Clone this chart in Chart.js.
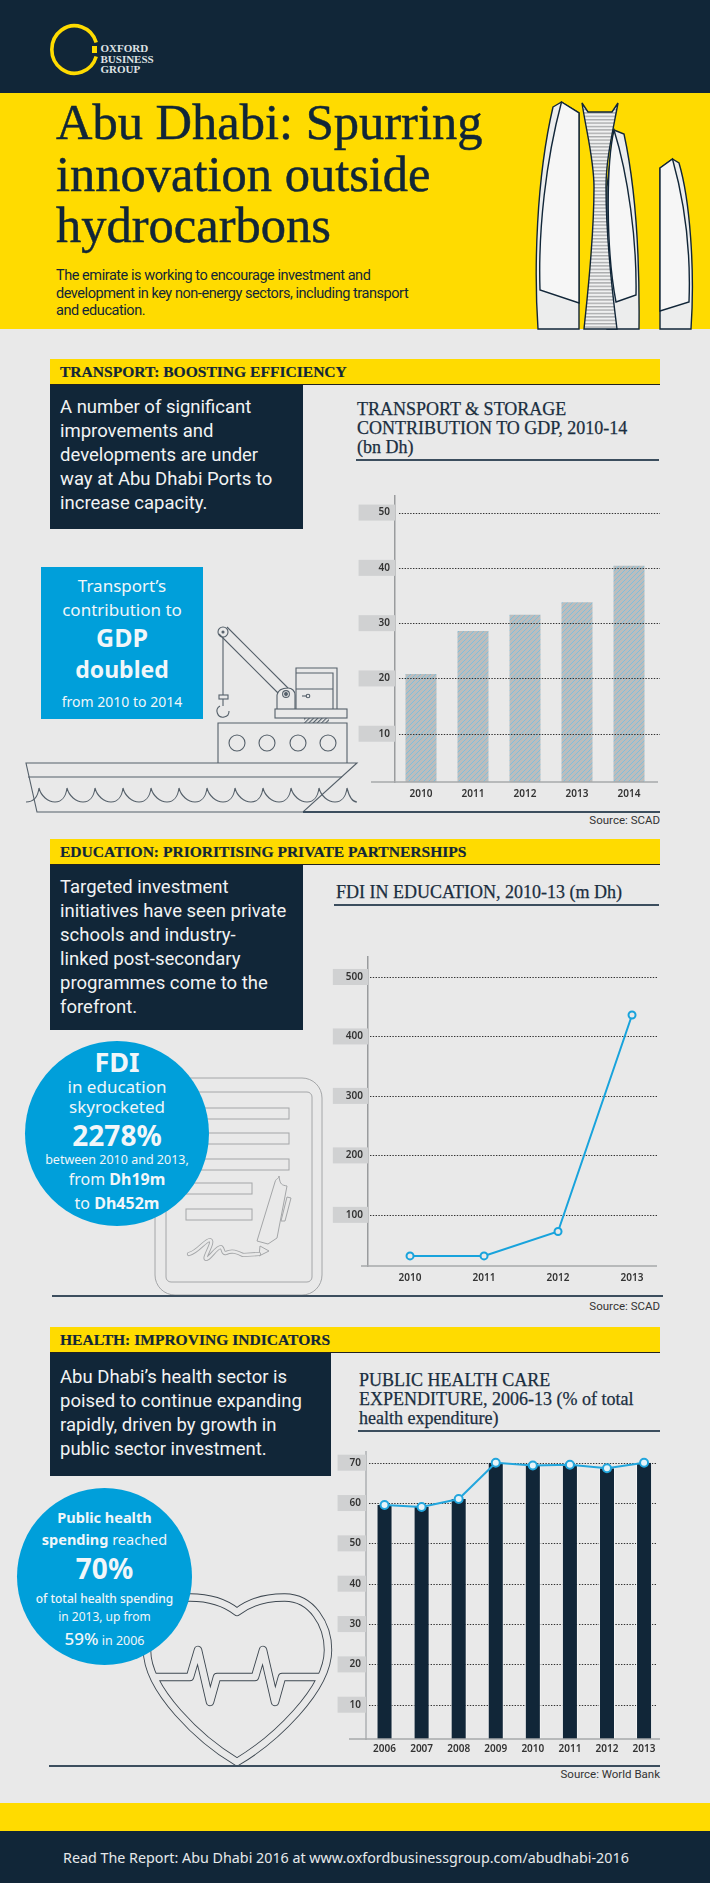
<!DOCTYPE html>
<html>
<head>
<meta charset="utf-8">
<script src="https://cdn.jsdelivr.net/npm/chart.js@4"></script>
<style>
html, body { margin: 0; padding: 0; }
body { position: relative; width: 710px; height: 1883px; overflow: hidden; background: #e9e9e9; font-family: "Noto Sans", sans-serif; }
.box { position: absolute; }
.t { position: absolute; white-space: nowrap; }
.c { text-align: center; }
.navy { background: #112638; }
.yellow { background: #ffdb00; }
.blue { background: #009fda; }
.head { font: bold 15.55px "Liberation Serif", serif; color: #112638; line-height: 20px; left: 60px; -webkit-text-stroke: 0.2px #112638; }
.body { font-family: Roboto, sans-serif; color: #f1f3f4; font-size: 18.5px; line-height: 24px; left: 60px; }
.ctitle { font: 18px "Liberation Serif", serif; color: #1a2e40; line-height: 20px; -webkit-text-stroke: 0.25px #1a2e40; }
.src { font-family: Roboto, sans-serif; right: 50px; font-size: 11.5px; color: #333; line-height: 16px; }
.w { color: #f1f6f9; }
canvas { position: absolute; }
svg { position: absolute; left: 0; top: 0; }
</style>
</head>
<body>

<div class="box navy" style="left:0;top:0;width:710px;height:93px"></div>
<div class="box yellow" style="left:0;top:93px;width:710px;height:236px"></div>
<div class="box yellow" style="left:0;top:1803px;width:710px;height:28px"></div>
<div class="box navy" style="left:0;top:1831px;width:710px;height:52px"></div>

<div class="box yellow" style="left:50px;top:359px;width:610px;height:26px;border-bottom:1px solid #222;box-sizing:border-box"></div>
<div class="box yellow" style="left:50px;top:839px;width:610px;height:26px;border-bottom:1px solid #222;box-sizing:border-box"></div>
<div class="box yellow" style="left:50px;top:1327px;width:610px;height:26px;border-bottom:1px solid #222;box-sizing:border-box"></div>

<svg width="710" height="1883" viewBox="0 0 710 1883" fill="none">
  <defs>
    <pattern id="rungs" width="4" height="3.4" patternUnits="userSpaceOnUse">
      <rect width="4" height="3.4" fill="#f0f1f1"/>
      <rect width="4" height="1.4" fill="#a9abac"/>
    </pattern>
    <pattern id="smallHatch" width="3" height="3" patternUnits="userSpaceOnUse" patternTransform="rotate(45)">
      <rect width="1.2" height="3" fill="#55606a"/>
    </pattern>
  </defs>

  <!-- logo -->
  <path d="M96.2 42.5 A22.7 23.7 0 1 0 96.2 56.5" stroke="#ffdb00" stroke-width="3.6"/>
  <rect x="92" y="46" width="5" height="7" fill="#ffdb00"/>

  <!-- towers -->
  <g stroke="#112638" stroke-width="1.4">
    <path d="M553 107 L561.5 102 L579 113 L579 329 L538 329 C534 270 536 180 553 107 Z" fill="#eceded"/>
    <path d="M561.5 102 L579 113 L579 303 L540 290 C538 230 546 160 561.5 102 Z" fill="#f6f6f6"/>
    <path d="M614 130 L624 134 C634 180 640 240 639 329 L607 329 L607 187 Z" fill="#eceded"/>
    <path d="M614 130 C606 165 606 250 616 302 L636 295 C637 240 628 175 614 130 Z" fill="#f6f6f6"/>
    <path d="M582 103 C587 135 594 160 594 187 C594 240 588 290 584 329 L617 329 C612 290 606 240 606 187 C606 160 612 135 618 103 L612 112 L588 112 Z" fill="url(#rungs)"/>
    <path d="M660 168 L672.5 159 L679 163 C690 200 695 270 691 329 L660 329 Z" fill="#eceded"/>
    <path d="M660 168 L672.5 159 C684 200 691 250 689 302 L660 311 Z" fill="#f6f6f6"/>
  </g>

  <!-- ship -->
  <g stroke="#55606a" stroke-width="1.1">
    <path d="M26 763 L357 763 L303 812 L37 812 Z"/>
    <path d="M28 777 L342 777"/>
    <path d="M26 802 C34 802 38 796 39 788 C41 796 48 802 55 802 C62 802 66 796 67 788 C69 796 76 802 83 802 C90 802 94 796 95 788 C97 796 104 802 111 802 C118 802 122 796 123 788 C125 796 132 802 139 802 C146 802 150 796 151 788 C153 796 160 802 167 802 C174 802 178 796 179 788 C181 796 188 802 195 802 C202 802 206 796 207 788 C209 796 216 802 223 802 C230 802 234 796 235 788 C237 796 244 802 251 802 C258 802 262 796 263 788 C265 796 272 802 279 802 C286 802 290 796 291 788 C293 796 300 802 307 802 C314 802 318 796 319 788 C321 796 328 802 335 802 C342 802 346 796 347 788 C349 796 352 802 357 802"/>
    <path d="M218 763 L218 723 L347 723 L347 763"/>
    <circle cx="237" cy="743" r="8"/><circle cx="267" cy="743" r="8"/><circle cx="298" cy="743" r="8"/><circle cx="328" cy="743" r="8"/>
    <rect x="304" y="718" width="25" height="5" fill="url(#smallHatch)" stroke="none"/>
    <rect x="275" y="709" width="72" height="9"/>
    <path d="M296 709 L296 668 L337 668 L337 709 M296 673 L333 673 L333 709 M296 689 L333 689"/>
    <path d="M302 696 L307 696"/><circle cx="308" cy="696" r="1.8"/>
    <path d="M227 627 L288 688 M219 634 L278 693"/>
    <circle cx="223" cy="632" r="5"/><circle cx="223" cy="632" r="1" fill="#55606a"/>
    <path d="M277 709 L277 695 C278 690 283 688 288 688 C292 688 295 691 295 695 L295 709"/>
    <circle cx="286" cy="694" r="3.4"/><circle cx="286" cy="694" r="1.4" fill="#55606a"/>
    <path d="M223 637 L223 695"/>
    <rect x="219" y="695" width="9" height="4"/>
    <path d="M223 699 L223 706 M229 711 A6 6 0 1 1 220 706"/>
  </g>

  <!-- document -->
  <g stroke="#a4a6a8" stroke-width="1">
    <rect x="155" y="1078" width="167" height="217" rx="20"/>
    <rect x="166" y="1092" width="146" height="190" rx="5"/>
    <rect x="186" y="1108" width="103" height="11"/>
    <rect x="186" y="1133" width="103" height="11"/>
    <rect x="186" y="1159" width="103" height="11"/>
    <rect x="186" y="1183" width="66" height="11"/>
    <rect x="186" y="1209" width="66" height="11"/>
    <path d="M277 1238 L268 1244 L257 1241 L275 1182 C276 1178 279 1179 279 1176 C280 1185 282 1185 287 1186 Z" />
    <path d="M281 1221 L287 1197 L291 1198 L285 1221 Z"/>
    <path d="M260 1246 L269 1251 L259 1256 Z"/>
  </g>
  <path d="M189 1254 C198 1252 205 1240 210 1240 C215 1241 203 1258 206 1259 C210 1259 216 1247 221 1247 C224 1249 222 1254 226 1253 C232 1250 237 1252 243 1255 L259 1254" stroke="#a4a6a8" stroke-width="4.2" stroke-linejoin="round" stroke-linecap="round"/>
  <path d="M189 1254 C198 1252 205 1240 210 1240 C215 1241 203 1258 206 1259 C210 1259 216 1247 221 1247 C224 1249 222 1254 226 1253 C232 1250 237 1252 243 1255 L259 1254" stroke="#e9e9e9" stroke-width="2.4" stroke-linejoin="round" stroke-linecap="round"/>

  <!-- heart -->
  <path d="M237 1612 C222 1600 205 1597.5 190 1597.5 C162 1597 147 1625 147 1650 C147 1690 200 1740 237 1762 C274 1740 328 1690 328 1650 C328 1625 312 1597 284 1597.5 C269 1597.5 252 1600 237 1612 Z M152 1677 L190 1677 L198 1650 L210 1702 L217 1677 L255 1677 L263 1650 L275 1702 L282 1677 L322 1677" stroke="#3d4750" stroke-width="8.4" stroke-linejoin="round"/>
  <path d="M237 1612 C222 1600 205 1597.5 190 1597.5 C162 1597 147 1625 147 1650 C147 1690 200 1740 237 1762 C274 1740 328 1690 328 1650 C328 1625 312 1597 284 1597.5 C269 1597.5 252 1600 237 1612 Z M152 1677 L190 1677 L198 1650 L210 1702 L217 1677 L255 1677 L263 1650 L275 1702 L282 1677 L322 1677" stroke="#e9e9e9" stroke-width="6.6" stroke-linejoin="round"/>

  <!-- section rules -->
  <g stroke="#3c4e5e" stroke-width="2">
    <path d="M303 812 L660 812"/>
    <path d="M52 1296 L663 1296"/>
    <path d="M49 1766 L660 1766"/>
    <path d="M356 460 L659 460"/>
    <path d="M334 905 L659 905"/>
    <path d="M358 1431 L660 1431"/>
  </g>
</svg>

<div class="t" style="left:100.5px;top:43px;font:bold 11px/10.5px 'Liberation Serif',serif;color:#dfe2e4">OXFORD<br>BUSINESS<br>GROUP</div>

<div class="t" style="left:56px;top:97px;font:50.5px/51.5px 'Liberation Serif',serif;color:#112638;-webkit-text-stroke:0.5px #112638">Abu Dhabi: Spurring<br>innovation outside<br>hydrocarbons</div>
<div class="t" style="left:56px;top:267px;font-family:Roboto,sans-serif;font-size:14.5px;line-height:17.6px;color:#112638;letter-spacing:-0.45px">The emirate is working to encourage investment and<br>development in key non-energy sectors, including transport<br>and education.</div>

<!-- transport -->
<div class="t head" style="top:362px">TRANSPORT: BOOSTING EFFICIENCY</div>
<div class="box navy" style="left:50px;top:385px;width:253px;height:144px"></div>
<div class="t body" style="top:395px">A number of significant<br>improvements and<br>developments are under<br>way at Abu Dhabi Ports to<br>increase capacity.</div>
<div class="box blue" style="left:41px;top:567px;width:162px;height:152px"></div>
<div class="t c w" style="left:41px;width:162px;top:574px;font-size:17px;line-height:24px">Transport’s<br>contribution to</div>
<div class="t c w" style="left:41px;width:162px;top:621px;font-size:25px;line-height:32px;font-weight:700">GDP</div>
<div class="t c w" style="left:41px;width:162px;top:653px;font-size:23px;line-height:32px;font-weight:700">doubled</div>
<div class="t c w" style="left:41px;width:162px;top:692px;font-size:14px;line-height:20px">from 2010 to 2014</div>
<div class="t ctitle" style="left:357px;top:400px;line-height:19px">TRANSPORT &amp; STORAGE<br>CONTRIBUTION TO GDP, 2010-14<br>(bn Dh)</div>
<div class="t src" style="top:812px">Source: SCAD</div>
<canvas id="transportChart" width="330" height="320" style="left:340px;top:490px"></canvas>

<!-- education -->
<div class="t head" style="top:842px">EDUCATION: PRIORITISING PRIVATE PARTNERSHIPS</div>
<div class="box navy" style="left:50px;top:865px;width:253px;height:165px"></div>
<div class="t body" style="top:875px">Targeted investment<br>initiatives have seen private<br>schools and industry-<br>linked post-secondary<br>programmes come to the<br>forefront.</div>
<div class="t ctitle" style="left:336px;top:882px">FDI IN EDUCATION, 2010-13 (m Dh)</div>
<div class="t src" style="top:1298px">Source: SCAD</div>
<canvas id="fdiChart" width="350" height="345" style="left:320px;top:950px"></canvas>

<div class="box blue" style="left:25px;top:1041px;width:184px;height:185px;border-radius:50%"></div>
<div class="t c w" style="left:25px;width:184px;top:1044px;font-size:27px;line-height:36px;font-weight:700">FDI</div>
<div class="t c w" style="left:25px;width:184px;top:1077px;font-size:17px;line-height:20px">in education<br>skyrocketed</div>
<div class="t c w" style="left:25px;width:184px;top:1115px;font-size:28px;line-height:40px;font-weight:700">2278%</div>
<div class="t c w" style="left:25px;width:184px;top:1151px;font-size:12.5px;line-height:18px">between 2010 and 2013,</div>
<div class="t c w" style="left:25px;width:184px;top:1167px;font-size:16px;line-height:24px">from <b>Dh19m</b><br>to <b>Dh452m</b></div>

<!-- health -->
<div class="t head" style="top:1330px">HEALTH: IMPROVING INDICATORS</div>
<div class="box navy" style="left:50px;top:1353px;width:281px;height:123px"></div>
<div class="t body" style="top:1365px">Abu Dhabi’s health sector is<br>poised to continue expanding<br>rapidly, driven by growth in<br>public sector investment.</div>
<div class="t ctitle" style="left:359px;top:1371px;line-height:19px">PUBLIC HEALTH CARE<br>EXPENDITURE, 2006-13 (% of total<br>health expenditure)</div>
<div class="t src" style="top:1766px">Source: World Bank</div>
<canvas id="healthChart" width="350" height="310" style="left:320px;top:1445px"></canvas>

<div class="box blue" style="left:17px;top:1488px;width:175px;height:177px;border-radius:50%"></div>
<div class="t c w" style="left:17px;width:175px;top:1506px;font-size:14.5px;line-height:22px"><b>Public health<br>spending</b> reached</div>
<div class="t c w" style="left:17px;width:175px;top:1550px;font-size:28px;line-height:36px;font-weight:700">70%</div>
<div class="t c w" style="left:17px;width:175px;top:1590px;font-size:12px;line-height:18px"><span style="font-weight:500">of total health spending</span><br>in 2013, up from</div>
<div class="t c w" style="left:17px;width:175px;top:1627px;font-size:12.5px;line-height:24px"><span style="font-size:17px;font-weight:500">59%</span> in 2006</div>

<div class="t" style="left:63px;top:1848px;font-size:14.3px;line-height:20px;color:#e6e9eb">Read The Report: Abu Dhabi 2016 at www.oxfordbusinessgroup.com/abudhabi-2016</div>

<script>
// transport & storage, bn Dh
const transportYears = ['2010', '2011', '2012', '2013', '2014'];
const transportValues = [20.8, 28.6, 31.5, 33.8, 40.4];
const transportTicks = [10, 20, 30, 40, 50];

// fdi in education, m Dh
const fdiYears = [2010, 2011, 2012, 2013];
const fdiValues = [31, 31, 72, 436];
const fdiTicks = [100, 200, 300, 400, 500];

// public health care, % of total
const healthYears = ['2006', '2007', '2008', '2009', '2010', '2011', '2012', '2013'];
const healthValues = [59.5, 59, 61, 70, 69.3, 69.5, 68.6, 70];
const healthTicks = [10, 20, 30, 40, 50, 60, 70];

const LABEL_FONT = { family: '"Noto Sans"', size: 10, weight: '600' };
const LABEL_COLOR = '#333';
const BOX_COLOR = '#d0d1d2';

// dotted gridlines and the base line run past the chart area in the original
function drawGrid(chart, o) {
    const ctx = chart.ctx;
    const y = chart.scales.y;
    ctx.save();
    ctx.setLineDash([1.4, 1.4]);
    ctx.strokeStyle = '#333';
    ctx.lineWidth = 1;
    y.ticks.forEach(t => {
        const py = Math.round(y.getPixelForValue(t.value)) + 0.5;
        ctx.beginPath();
        ctx.moveTo(o.gridFrom, py);
        ctx.lineTo(o.gridTo, py);
        ctx.stroke();
    });
    ctx.restore();
}

const axisLines = {
    id: 'axisLines',
    beforeDatasetsDraw(chart, args, o) {
        if (!o.gridOnTop) drawGrid(chart, o);
    },
    afterDatasetsDraw(chart, args, o) {
        if (o.gridOnTop) drawGrid(chart, o);
        const ctx = chart.ctx;
        ctx.save();
        ctx.strokeStyle = '#a6a8aa';
        ctx.lineWidth = 1.5;
        ctx.beginPath();
        ctx.moveTo(o.baseFrom, chart.chartArea.bottom);
        ctx.lineTo(o.baseTo, chart.chartArea.bottom);
        ctx.stroke();
        ctx.restore();
    }
};

function hatch() {
    const c = document.createElement('canvas');
    c.width = 5;
    c.height = 5;
    const g = c.getContext('2d');
    g.fillStyle = '#bcbdbd';
    g.fillRect(0, 0, 5, 5);
    g.strokeStyle = '#7fbfdc';
    g.lineWidth = 1;
    g.beginPath();
    g.moveTo(-1, 6); g.lineTo(6, -1);
    g.moveTo(-1, 1); g.lineTo(1, -1);
    g.moveTo(4, 6); g.lineTo(6, 4);
    g.stroke();
    return g.createPattern(c, 'repeat');
}

function yAxis(min, max, ticks, width, boxLeft) {
    return {
        min: min,
        max: max,
        afterBuildTicks: s => { s.ticks = ticks.map(v => ({ value: v })); },
        afterFit: s => { s.width = width; s.paddingTop = 0; s.paddingBottom = 0; },
        grid: { display: false, drawTicks: false },
        border: { display: true, color: '#9a9c9e', width: 1.5 },
        ticks: {
            font: LABEL_FONT,
            color: LABEL_COLOR,
            padding: 5,
            showLabelBackdrop: true,
            backdropColor: BOX_COLOR,
            backdropPadding: { top: 2, bottom: 2, left: boxLeft, right: 5 }
        }
    };
}

function xAxis(height, padding) {
    return {
        afterFit: s => { s.height = height; s.paddingLeft = 0; s.paddingRight = 0; },
        grid: { display: false, drawTicks: false },
        border: { display: false },
        ticks: { font: LABEL_FONT, color: LABEL_COLOR, padding: padding, maxRotation: 0, autoSkip: false }
    };
}

const base = { responsive: false, animation: false, events: [] };
const noLegend = { legend: { display: false }, tooltip: { enabled: false } };

new Chart(document.getElementById('transportChart'), {
    type: 'bar',
    plugins: [axisLines],
    data: {
        labels: transportYears,
        datasets: [{
            data: transportValues,
            backgroundColor: hatch(),
            barPercentage: 31 / 52,
            categoryPercentage: 1
        }]
    },
    options: {
        ...base,
        layout: { padding: { top: 6, right: 15 } },
        scales: {
            x: xAxis(28, 6),
            y: yAxis(1.27, 53, transportTicks, 55, 20)
        },
        plugins: { ...noLegend, axisLines: { gridOnTop: true, gridFrom: 59, gridTo: 320, baseFrom: 31, baseTo: 318 } }
    }
});

const fdiX = xAxis(29, 6);
new Chart(document.getElementById('fdiChart'), {
    type: 'line',
    plugins: [axisLines],
    data: {
        datasets: [{
            data: fdiYears.map((y, i) => ({ x: y, y: fdiValues[i] })),
            borderColor: '#18a3dc',
            borderWidth: 2,
            tension: 0,
            pointRadius: 3.5,
            pointBorderWidth: 2,
            pointBackgroundColor: '#e9e9e9',
            pointBorderColor: '#18a3dc'
        }]
    },
    options: {
        ...base,
        layout: { padding: { top: 7, right: 10 } },
        scales: {
            x: {
                ...fdiX,
                type: 'linear',
                min: 2009.432,
                max: 2013.378,
                afterBuildTicks: s => { s.ticks = fdiYears.map(v => ({ value: v })); },
                ticks: { ...fdiX.ticks, callback: v => String(v) }
            },
            y: yAxis(14, 533.6, fdiTicks, 48, 13)
        },
        plugins: { ...noLegend, axisLines: { gridFrom: 50, gridTo: 338, baseFrom: 41, baseTo: 337 } }
    }
});

new Chart(document.getElementById('healthChart'), {
    type: 'bar',
    plugins: [axisLines],
    data: {
        labels: healthYears,
        datasets: [{
            type: 'line',
            data: healthValues,
            order: 0,
            borderColor: '#23a6dd',
            borderWidth: 2,
            tension: 0,
            pointRadius: 4,
            pointBorderWidth: 2,
            pointBackgroundColor: '#e6f4fa',
            pointBorderColor: '#23a6dd'
        }, {
            data: healthValues,
            order: 1,
            backgroundColor: '#112638',
            borderColor: '#f4f4f4',
            borderWidth: { left: 1, right: 1 },
            barPercentage: 16 / 37,
            categoryPercentage: 1
        }]
    },
    options: {
        ...base,
        layout: { padding: { top: 7, right: 7.4 } },
        scales: {
            x: xAxis(16, 4),
            y: { ...yAxis(1.5, 72.65, healthTicks, 46, 12), border: { display: true, color: '#bcbec0', width: 2 } }
        },
        plugins: { ...noLegend, axisLines: { gridFrom: 49, gridTo: 336, baseFrom: 29, baseTo: 340 } }
    }
});
</script>
</body>
</html>
